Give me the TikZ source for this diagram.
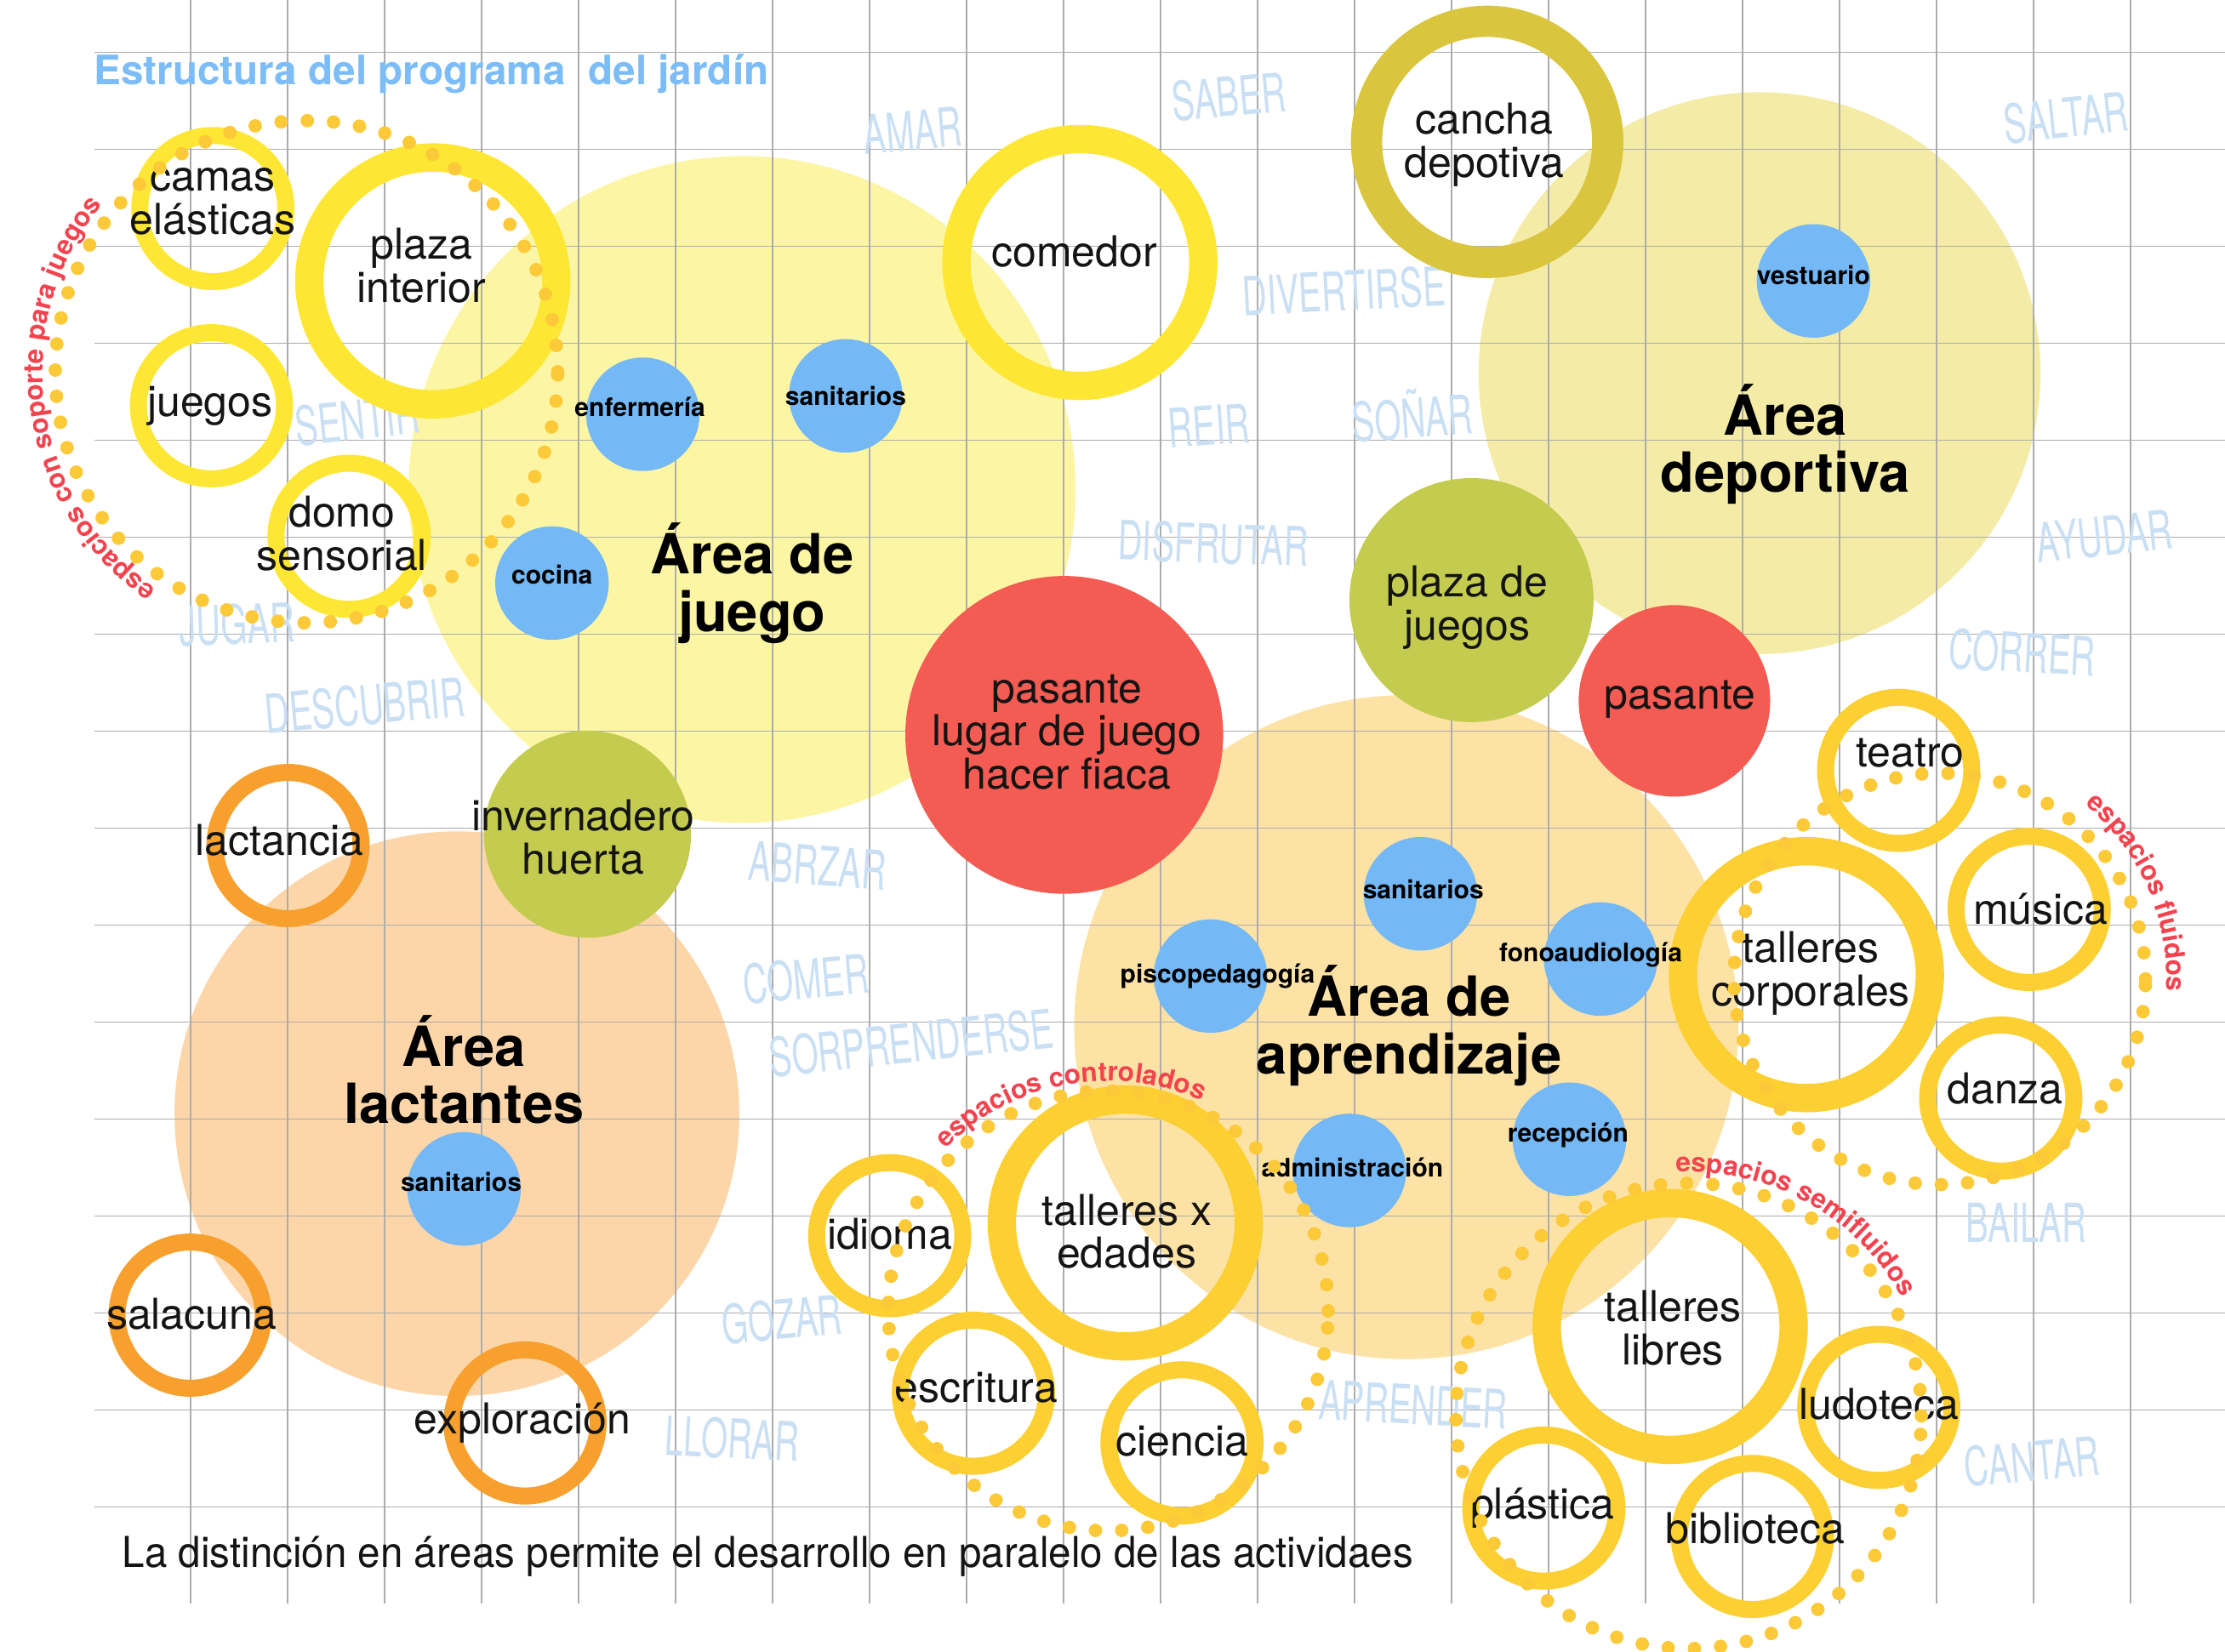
\documentclass[tikz,border=0pt]{standalone}
\usepackage{fontspec}
\setmainfont{TeX Gyre Heros}
\newfontfamily\condfont[FakeStretch=0.95]{TeX Gyre Heros}
\newfontfamily\wmfont[FakeStretch=0.63]{TeX Gyre Heros}
\usetikzlibrary{decorations.text}
\definecolor{juegoA}{HTML}{FCF6A4}
\definecolor{deporteA}{HTML}{F4ECA6}
\definecolor{aprendA}{HTML}{FDE2A5}
\definecolor{lactA}{HTML}{FCD6A9}
\definecolor{redC}{HTML}{F45B52}
\definecolor{greenC}{HTML}{C4CC50}
\definecolor{blueC}{HTML}{74B8F6}
\definecolor{ringY}{HTML}{FDE734}
\definecolor{ringG}{HTML}{FCCF33}
\definecolor{ringK}{HTML}{D9C53E}
\definecolor{ringO}{HTML}{F8A02E}
\definecolor{dotY}{HTML}{FCC938}
\definecolor{labred}{HTML}{F3434F}
\definecolor{titleblue}{HTML}{7CBDF7}
\definecolor{wmblue}{HTML}{C9DFF4}
\definecolor{gridc}{HTML}{ACACAC}
\newcommand\curvefont{\fontsize{19}{19}\selectfont\bfseries\color{labred}}
\begin{document}
\begin{tikzpicture}[x=1pt,y=-1pt,
  areac/.style={circle,inner sep=0pt,outer sep=0pt,draw=none},
  solidc/.style={circle,inner sep=0pt,outer sep=0pt,draw=none},
  bluec/.style={circle,inner sep=0pt,outer sep=0pt,draw=none,fill=blueC,minimum size=80pt},
  ringsmall/.style={circle,inner sep=0pt,outer sep=0pt,line width=12pt,minimum size=103pt},
  ringlarge/.style={circle,inner sep=0pt,outer sep=0pt,line width=20pt,minimum size=174pt},
  gridl/.style={draw=gridc,line width=0.9pt},
  dotring/.style={draw=dotY,line width=9.5pt,line cap=round,dash pattern=on 0pt off 18.5pt},
  lbl/.style={inner sep=0pt,align=center,text=black!92,font=\fontsize{30}{30.5}\selectfont},
  biglbl/.style={inner sep=0pt,align=center,text=black,font=\fontsize{39}{40.5}\selectfont\bfseries},
  smalllbl/.style={inner sep=0pt,align=center,text=black,font=\fontsize{18}{18}\selectfont\bfseries},
  wm/.style={inner sep=0pt,text=wmblue,font=\wmfont\fontsize{38}{38}\selectfont}
]
\useasboundingbox (0,0) rectangle (1568,1164);
\fill[white] (0,0) rectangle (1568,1164);

% pale areas
\node[areac,fill=juegoA,minimum size=470pt] (juego) at (523,345) {};
\node[areac,fill=deporteA,minimum size=396pt] (deporte) at (1240,263) {};
\node[areac,fill=aprendA,minimum size=468pt] (aprend) at (991,724) {};
\node[areac,fill=lactA,minimum size=398pt] (lact) at (322,785) {};

% grid
\foreach \k in {0,...,20} {\draw[gridl] ({134.3+68.36*\k},0) -- ({134.3+68.36*\k},1130);}
\foreach \j in {0,...,15} {\draw[gridl] (66.7,{36.9+68.36*\j}) -- (1568,{36.9+68.36*\j});}

% watermark words
\node[wm,rotate=5] (wAmar) at (643,92) {AMAR};
\node[wm,rotate=5] (wSaber) at (866,68) {SABER};
\node[wm,rotate=6] (wSaltar) at (1456,83) {SALTAR};
\node[wm,rotate=3] (wDiv) at (947,205) {DIVERTIRSE};
\node[wm,rotate=6] (wSentir) at (252,296) {SENTIR};
\node[wm,rotate=4] (wReir) at (852,300) {REIR};
\node[wm,rotate=4] (wSonar) at (995,292) {SOÑAR};
\node[wm,rotate=-2] (wDisf) at (855,383) {DISFRUTAR};
\node[wm,rotate=6] (wAyudar) at (1483,378) {AYUDAR};
\node[wm,rotate=2] (wJugar) at (167,440) {JUGAR};
\node[wm,rotate=-3] (wCorrer) at (1425,460) {CORRER};
\node[wm,rotate=5] (wDesc) at (257,497) {DESCUBRIR};
\node[wm,rotate=-4] (wAbr) at (576,610) {ABRZAR};
\node[wm,rotate=5] (wComer) at (568,690) {COMER};
\node[wm,rotate=6] (wSorp) at (642,735) {SORPRENDERSE};
\node[wm,rotate=0] (wBailar) at (1428,862) {BAILAR};
\node[wm,rotate=5] (wGozar) at (551,930) {GOZAR};
\node[wm,rotate=-3] (wAprender) at (996,990) {APRENDER};
\node[wm,rotate=-3] (wLlorar) at (516,1014) {LLORAR};
\node[wm,rotate=5] (wCantar) at (1432,1030) {CANTAR};

% solid circles
\node[solidc,fill=greenC,minimum size=172pt] (plazaJ) at (1037,423) {};
\node[solidc,fill=greenC,minimum size=146pt] (inver) at (414,588) {};
\node[solidc,fill=redC,minimum size=224pt] (pasG) at (750,518) {};
\node[solidc,fill=redC,minimum size=135pt] (pasC) at (1180,494) {};

\node[bluec] (bEnf) at (453,292) {};
\node[bluec] (bSan1) at (596,279) {};
\node[bluec] (bCoc) at (389,411) {};
\node[bluec] (bVest) at (1278,198) {};
\node[bluec] (bSan2) at (1001,630) {};
\node[bluec] (bPsico) at (853,688) {};
\node[bluec] (bFono) at (1128,676) {};
\node[bluec] (bRecep) at (1106,803) {};
\node[bluec] (bAdm) at (951,825) {};
\node[bluec] (bSan3) at (327,838) {};

% rings
\node[ringsmall,draw=ringY] (rCamas) at (150,147) {};
\node[ringsmall,draw=ringY] (rJuegos) at (149,286) {};
\node[ringsmall,draw=ringY] (rDomo) at (246,378) {};
\node[ringlarge,draw=ringY] (rPlazaI) at (305,198) {};
\node[ringlarge,draw=ringY] (rComedor) at (761,185) {};
\node[ringlarge,draw=ringK,line width=22pt,minimum size=170pt] (rCancha) at (1048,100) {};
\node[ringsmall,draw=ringO] (rLactancia) at (203,596) {};
\node[ringsmall,draw=ringO] (rSalacuna) at (134,927) {};
\node[ringsmall,draw=ringO] (rExplo) at (370,1003) {};
\node[ringlarge,draw=ringG] (rTallX) at (793,862) {};
\node[ringlarge,draw=ringG] (rTallL) at (1177,935) {};
\node[ringlarge,draw=ringG] (rTallC) at (1273,687) {};
\node[ringsmall,draw=ringG] (rIdioma) at (627,871) {};
\node[ringsmall,draw=ringG] (rEscr) at (686,982) {};
\node[ringsmall,draw=ringG] (rCiencia) at (833,1017) {};
\node[ringsmall,draw=ringG] (rLudo) at (1324,992) {};
\node[ringsmall,draw=ringG] (rPlast) at (1088,1063) {};
\node[ringsmall,draw=ringG] (rBiblio) at (1235,1083) {};
\node[ringsmall,draw=ringG] (rTeatro) at (1338,543) {};
\node[ringsmall,draw=ringG] (rMusica) at (1430,641) {};
\node[ringsmall,draw=ringG] (rDanza) at (1410,774) {};

% labels
\node[lbl] (tCamas) at (150,142) {camas\\elásticas};
\node[lbl] (tPlazaI) at (297,187) {plaza\\interior};
\node[lbl] (tJuegos) at (148,286) {juegos};
\node[lbl] (tDomo) at (241,376) {domo\\sensorial};
\node[lbl] (tComedor) at (757,177) {comedor};
\node[lbl] (tCancha) at (1046,102) {cancha\\depotiva};
\node[lbl] (tLactancia) at (197,592) {lactancia};
\node[lbl] (tSalacuna) at (135,926) {salacuna};
\node[lbl] (tExplo) at (368,1003) {exploración};
\node[lbl] (tTallX) at (794,868) {talleres x\\edades};
\node[lbl] (tIdioma) at (627,870) {idioma};
\node[lbl] (tEscr) at (688,978) {escritura};
\node[lbl] (tCiencia) at (833,1016) {ciencia};
\node[lbl] (tTallL) at (1179,936) {talleres\\libres};
\node[lbl] (tLudo) at (1324,990) {ludoteca};
\node[lbl] (tPlast) at (1087,1063) {plástica};
\node[lbl] (tBiblio) at (1237,1077) {biblioteca};
\node[lbl] (tTallC) at (1276,686) {talleres\\corporales};
\node[lbl] (tTeatro) at (1346,531) {teatro};
\node[lbl] (tMusica) at (1438,641) {música};
\node[lbl] (tDanza) at (1413,767) {danza};
\node[lbl] (tPlazaJ) at (1034,428) {plaza de\\juegos};
\node[lbl] (tPasG) at (752,516) {pasante\\lugar de juego\\hacer fiaca};
\node[lbl] (tPasC) at (1184,493) {pasante};
\node[lbl] (tInver) at (411,590) {invernadero\\huerta};

\node[smalllbl] (sEnf) at (451,287) {enfermería};
\node[smalllbl] (sSan1) at (596,279) {sanitarios};
\node[smalllbl] (sCoc) at (389,405) {cocina};
\node[smalllbl] (sVest) at (1278,194) {vestuario};
\node[smalllbl] (sSan2) at (1003,627) {sanitarios};
\node[smalllbl] (sPsico) at (858,688) {piscopedagogía};
\node[smalllbl] (sFono) at (1121,673) {fonoaudiología};
\node[smalllbl] (sRecep) at (1105,800) {recepción};
\node[smalllbl] (sAdm) at (953,823) {administración};
\node[smalllbl] (sSan3) at (325,833) {sanitarios};

\node[biglbl] (aJuego) at (530,411) {Área de\\juego};
\node[biglbl] (aDeporte) at (1258,313) {Área\\deportiva};
\node[biglbl] (aAprend) at (993,723) {Área de\\aprendizaje};
\node[biglbl] (aLact) at (327,754) {Área\\lactantes};

% dotted circles
\draw[dotring] (216,262) circle[radius=177pt];
\draw[dotring] (781,924) circle[radius=155pt];
\draw[dotring] (1190,998) circle[radius=164pt];
\draw[dotring] (1367,690) circle[radius=145pt];

% curved labels
\path[decorate,decoration={text along path,text align=center,
  text={|\curvefont|espacios con soporte para juegos}}]
  plot[domain=-245:-131,samples=100] ({216+186*cos(\x)},{262+186*sin(\x)});
\path[decorate,decoration={text along path,text align=center,
  text={|\curvefont|espacios controlados}}]
  plot[domain=-142:-59,samples=80] ({781+162*cos(\x)},{924+162*sin(\x)});
\path[decorate,decoration={text along path,text align=center,
  text={|\curvefont|espacios semifluidos}}]
  plot[domain=-99:-23,samples=80] ({1190+172*cos(\x)},{998+172*sin(\x)});
\path[decorate,decoration={text along path,text align=center,
  text={|\curvefont|espacios fluidos}}]
  plot[domain=-56:9,samples=80] ({1367+160*cos(\x)},{690+160*sin(\x)});

% title and note
\node[anchor=west,inner sep=0pt,text=titleblue,font=\fontsize{28.6}{28.6}\selectfont\bfseries] (titulo) at (66,52) {Estructura del programa\ \ del jardín};
\node[anchor=west,inner sep=0pt,text=black!92,font=\condfont\fontsize{30}{30}\selectfont] (nota) at (86,1097) {La distinción en áreas permite el desarrollo en paralelo de las actividaes};
\end{tikzpicture}
\end{document}
